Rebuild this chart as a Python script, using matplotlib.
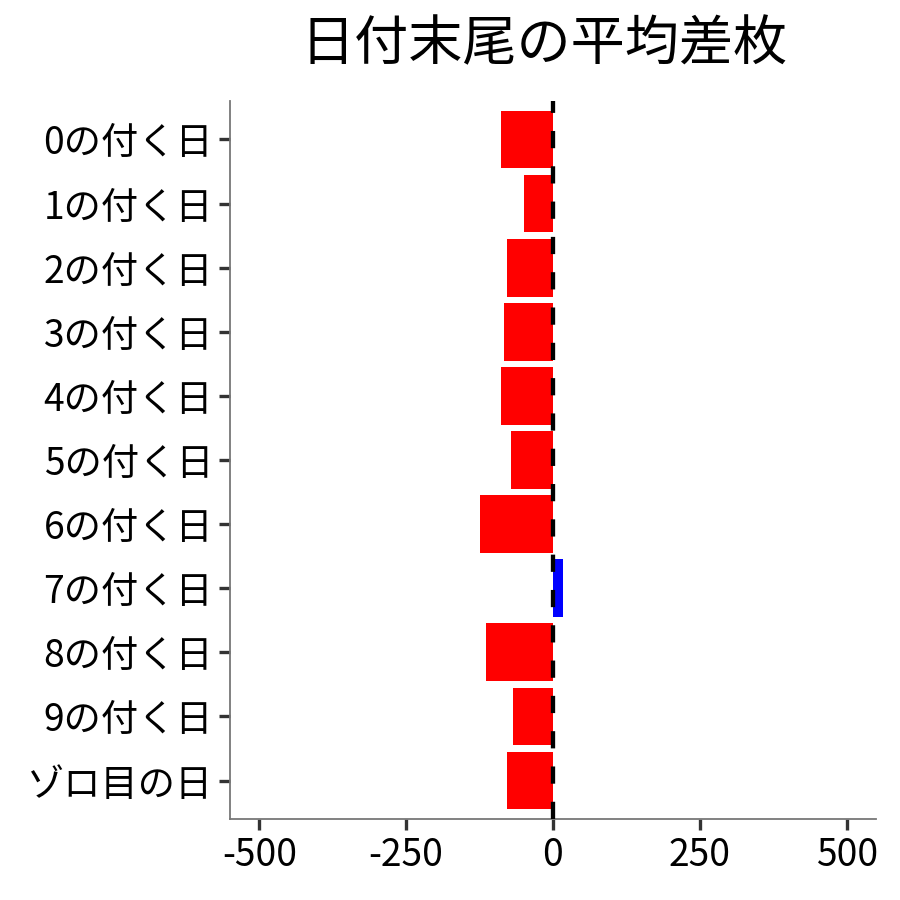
import numpy as np
import matplotlib
matplotlib.use("Agg")
import matplotlib.pyplot as plt

plt.rcParams['font.family'] = ['Noto Sans CJK JP', 'DejaVu Sans']

# data
labels = ['0の付く日', '1の付く日', '2の付く日', '3の付く日', '4の付く日',
          '5の付く日', '6の付く日', '7の付く日', '8の付く日', '9の付く日', 'ゾロ目の日']
values = [-88, -50, -79, -83, -88, -71, -124, 17, -114, -68, -79]
xticks = [-500, -250, 0, 250, 500]

colors = ['#0000FF' if v > 0 else '#FF0000' for v in values]
ypos = np.arange(len(labels))

fig = plt.figure(figsize=(9, 9), dpi=100)
ax = fig.add_axes([230 / 900, 1 - 819 / 900, 646 / 900, 718 / 900])

ax.barh(ypos, values, height=0.9, color=colors, zorder=2)
ax.axvline(0, color='black', lw=3.1, linestyle=(0, (4.0, 4.2)), zorder=3)

ax.set_xlim(-550, 550)
ax.set_ylim(len(labels) - 0.4, -0.6)
ax.set_xticks(xticks)
ax.set_xticklabels([str(t) for t in xticks])
ax.set_yticks(ypos)
ax.set_yticklabels(labels)

for side in ['top', 'right']:
    ax.spines[side].set_visible(False)
for side in ['left', 'bottom']:
    ax.spines[side].set_color('#777777')
    ax.spines[side].set_linewidth(1.3)

ax.tick_params(axis='both', labelsize=26.8, colors='#333333', labelcolor='black',
               length=8, width=2.4, pad=4)

fig.text(544 / 900, 1 - 45 / 900, '日付末尾の平均差枚', fontsize=39,
         ha='center', va='center')

fig.savefig('out.png', dpi=100)
